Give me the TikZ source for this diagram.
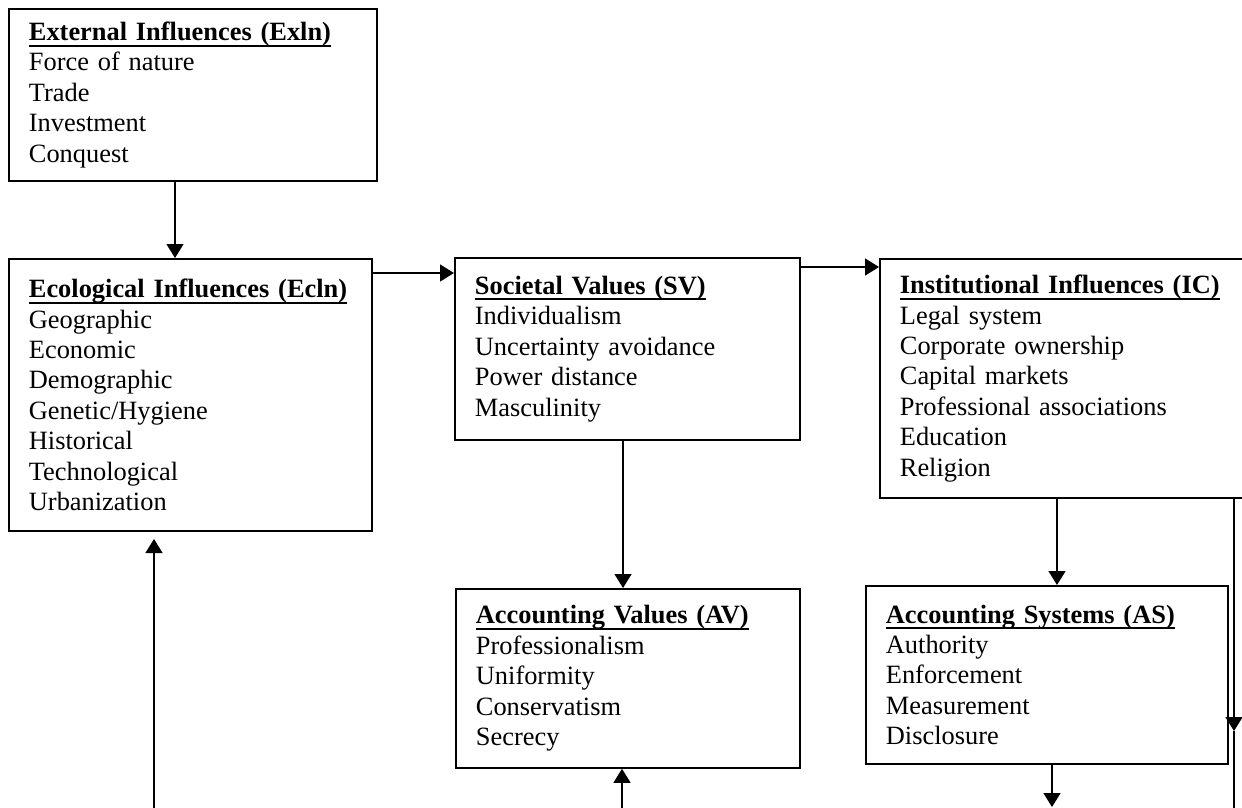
\documentclass[tikz,border=0pt]{standalone}
\usepackage{fontspec}
\setmainfont{Liberation Serif}
\usetikzlibrary{arrows.meta}

\newcommand{\hdr}[1]{\setbox0\hbox{\bfseries #1}\rlap{\rule[-3pt]{\wd0}{1pt}}\box0}

\begin{document}
\begin{tikzpicture}[x=0.5pt,y=-0.5pt,
        >={Triangle[length=7pt,width=8.5pt]},
        infobox/.style={draw,line width=0.9pt,anchor=north west,align=left,
            inner xsep=10pt,inner ysep=2pt,font=\fontsize{13.2}{15.2}\selectfont},
        link/.style={line width=0.7pt}]
        \useasboundingbox (0,0) rectangle (1242,808);
        \clip (0,0) rectangle (1242,808);

        \node[infobox,minimum width=184pt,text width=164pt,minimum height=86pt] (exln) at (8,8)
            {\hdr{External Influences (Exln)}\\Force of nature\\Trade\\Investment\\Conquest};
        \node[infobox,minimum width=181.5pt,text width=161.5pt,minimum height=136pt] (ecln) at (8,258)
            {\hdr{Ecological Influences (Ecln)}\\Geographic\\Economic\\Demographic\\Genetic/Hygiene\\Historical\\Technological\\Urbanization};
        \node[infobox,minimum width=172.5pt,text width=152.5pt,minimum height=91pt] (sv) at (454,257)
            {\hdr{Societal Values (SV)}\\Individualism\\Uncertainty avoidance\\Power distance\\Masculinity};
        \node[infobox,minimum width=186pt,text width=166pt,minimum height=119.5pt] (ic) at (879,258)
            {\hdr{Institutional Influences (IC)}\\Legal system\\Corporate ownership\\Capital markets\\Professional associations\\Education\\Religion};
        \node[infobox,minimum width=172pt,text width=152pt,minimum height=89.5pt] (av) at (455,588)
            {\hdr{Accounting Values (AV)}\\Professionalism\\Uniformity\\Conservatism\\Secrecy};
        \node[infobox,minimum width=181pt,text width=161pt,minimum height=89pt] (as) at (865,585)
            {\hdr{Accounting Systems (AS)}\\Authority\\Enforcement\\Measurement\\Disclosure};

        \coordinate (ectip) at (154,539);
        \coordinate (ecin) at (154,808);
        \coordinate (avin) at (622,808);
        \coordinate (asout) at (1052,807);
        \coordinate (icmid) at (1234,731);
        \coordinate (icend) at (1234,808);

        \draw[link,->] (exln.south -| 175,0) -- (ecln.north -| 175,0);
        \draw[link,->] (ecln.east |- 0,273) -- (sv.west |- 0,273);
        \draw[link,->] (sv.east |- 0,267) -- (ic.west |- 0,267);
        \draw[link,->] (sv.south -| 623,0) -- (av.north -| 623,0);
        \draw[link,->] (ic.south -| 1057,0) -- (as.north -| 1057,0);
        \draw[link,->] (ic.south -| 1234,0) -- (icmid);
        \draw[link] (icmid) -- (icend);
        \draw[link,->] (as.south -| 1052,0) -- (asout);
        \draw[link,->] (avin) -- (av.south -| 622,0);
        \draw[link,->] (ecin) -- (ectip);
    \end{tikzpicture}
\end{document}
